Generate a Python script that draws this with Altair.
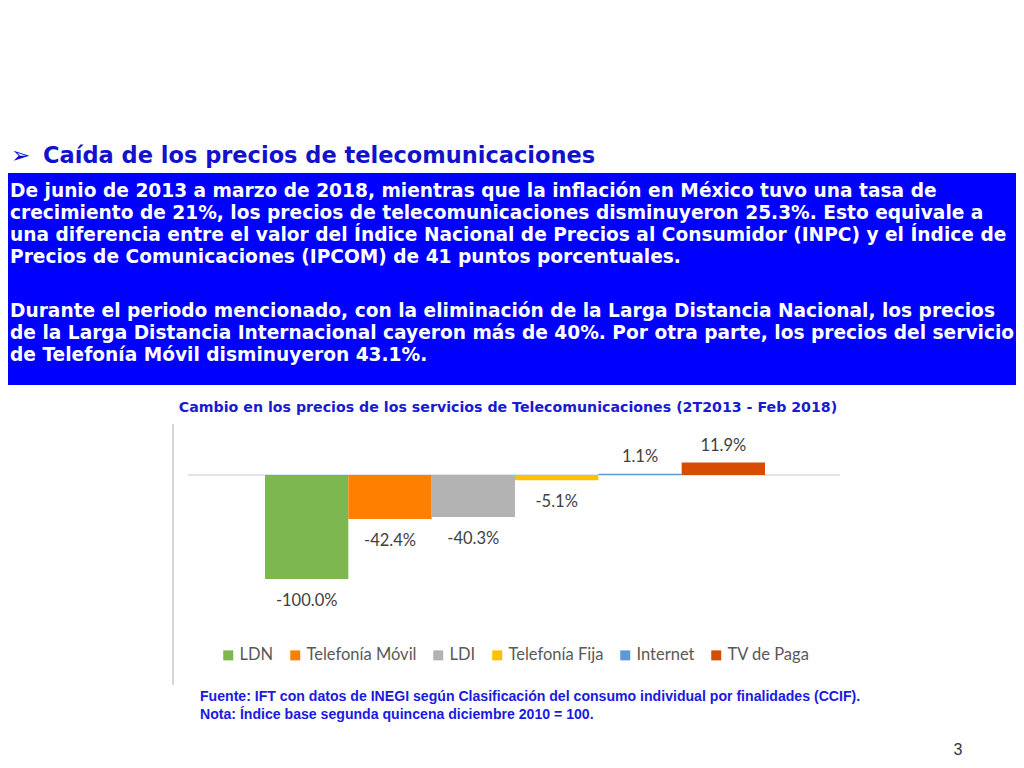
import altair as alt
import pandas as pd

# ---- data ----
categories = ["LDN", "Telefonía Móvil", "LDI", "Telefonía Fija", "Internet", "TV de Paga"]
values = [-100.0, -42.4, -40.3, -5.1, 1.1, 11.9]
labels = ["-100.0%", "-42.4%", "-40.3%", "-5.1%", "1.1%", "11.9%"]
colors = ["#7cb74f", "#ff7f00", "#b3b3b3", "#ffc000", "#5b9bd5", "#d64c00"]

slide_title = "Caída de los precios de telecomunicaciones"
paragraph1 = [
    "De junio de 2013 a marzo de 2018, mientras que la inflación en México tuvo una tasa de",
    "crecimiento de 21%, los precios de telecomunicaciones disminuyeron 25.3%. Esto equivale a",
    "una diferencia entre el valor del Índice Nacional de Precios al Consumidor (INPC) y el Índice de",
    "Precios de Comunicaciones (IPCOM) de 41 puntos porcentuales.",
]
paragraph2 = [
    "Durante el periodo mencionado, con la eliminación de la Larga Distancia Nacional, los precios",
    "de la Larga Distancia Internacional cayeron más de 40%. Por otra parte, los precios del servicio",
    "de Telefonía Móvil disminuyeron 43.1%.",
]
chart_title = "Cambio en los precios de los servicios de Telecomunicaciones (2T2013 - Feb 2018)"
footnotes = [
    "Fuente: IFT con datos de INEGI según Clasificación del consumo individual por finalidades (CCIF).",
    "Nota: Índice base segunda quincena diciembre 2010 = 100.",
]
page_number = "3"

df = pd.DataFrame({"cat": categories, "val": values, "label": labels})
df["i"] = range(len(categories))
one = pd.DataFrame({"k": [0]})

W, H = 1008, 752

# linear slot scale: slot 0 starts at x=257, one slot = 83.33 px
xscale = alt.Scale(domain=[-3.084, 9.012], nice=False, zero=False)
# linear value scale: 0 at y=467, -100 at y=571 (1.04 px per point)
yscale = alt.Scale(domain=[-274.04, 449.04], nice=False, zero=False)
cscale = alt.Scale(domain=categories, range=colors)

deco = alt.Chart(one)


def text_at(txt, x, y, **kw):
    return deco.mark_text(text=txt, **kw).encode(x=alt.value(x), y=alt.value(y))


layers = []
layers.append(deco.mark_rect(color="#0000ff").encode(
    x=alt.value(0), x2=alt.value(W), y=alt.value(165), y2=alt.value(377)))

layers.append(text_at("➢", 3, 155, font="DejaVu Sans", fontSize=23, color="#1010c8",
                      align="left", baseline="alphabetic"))
layers.append(text_at(slide_title, 35, 155, font="DejaVu Sans", fontWeight="bold",
                      fontSize=22.5, color="#1212cc", align="left", baseline="alphabetic"))

para_style = dict(font="DejaVu Sans", fontWeight="bold", fontSize=18.6, color="white",
                  align="left", baseline="alphabetic")
for i, line in enumerate(paragraph1):
    layers.append(text_at(line, 2, 189 + 22 * i, **para_style))
for i, line in enumerate(paragraph2):
    layers.append(text_at(line, 2, 309 + 22 * i, **para_style))

layers.append(text_at(chart_title, 500, 400, font="DejaVu Sans", fontWeight="bold",
                      fontSize=14.2, color="#1a1ad0", align="center", baseline="middle"))

layers.append(deco.mark_rule(color="#c8c8c8", strokeWidth=1.5).encode(
    x=alt.value(165), y=alt.value(416), y2=alt.value(677)))

base = alt.Chart(df).transform_calculate(
    zero="0", i1="datum.i + 1", ic="datum.i + 0.5")

layers.append(base.mark_rule(color="#d9d9e3", strokeWidth=1.5).encode(
    x=alt.value(180), x2=alt.value(832),
    y=alt.Y("zero:Q", scale=yscale, axis=None),
).transform_filter(alt.datum.i == 0))

layers.append(base.mark_rect().encode(
    x=alt.X("i:Q", scale=xscale, axis=None),
    x2="i1:Q",
    y=alt.Y("val:Q", scale=yscale, axis=None),
    y2="zero:Q",
    color=alt.Color("cat:N", scale=cscale, sort=categories, legend=alt.Legend(
        title=None, orient="none", legendX=212, legendY=639, direction="horizontal",
        symbolType="square", symbolSize=100, symbolStrokeWidth=0,
        labelFont="Lato", labelFontSize=16.5, labelColor="#595959", labelOffset=3,
        columnPadding=13, padding=0)),
))

layers.append(base.mark_text(font="Lato", fontSize=16.5, color="#404040", dy=22,
                             baseline="middle").encode(
    x=alt.X("ic:Q", scale=xscale, axis=None),
    y=alt.Y("val:Q", scale=yscale, axis=None),
    text="label:N").transform_filter(alt.datum.val < 0))

layers.append(base.mark_text(font="Lato", fontSize=16.5, color="#404040", dy=-17,
                             baseline="middle").encode(
    x=alt.X("ic:Q", scale=xscale, axis=None),
    y=alt.Y("val:Q", scale=yscale, axis=None),
    text="label:N").transform_filter(alt.datum.val > 0))

foot_style = dict(font="Liberation Sans", fontWeight="bold", fontSize=14.1,
                  color="#1a1ae0", align="left", baseline="middle")
for i, line in enumerate(footnotes):
    layers.append(text_at(line, 192, 689 + 18 * i, **foot_style))

layers.append(text_at(page_number, 950, 742, font="Liberation Sans", fontSize=16,
                      color="#333344", align="center", baseline="middle"))

chart = alt.layer(*layers).properties(
    width=W, height=H, padding=0, autosize=alt.AutoSizeParams(type="none")
).configure_view(stroke=None)

chart.save("out.html", embed_options={"renderer": "svg", "actions": False})
